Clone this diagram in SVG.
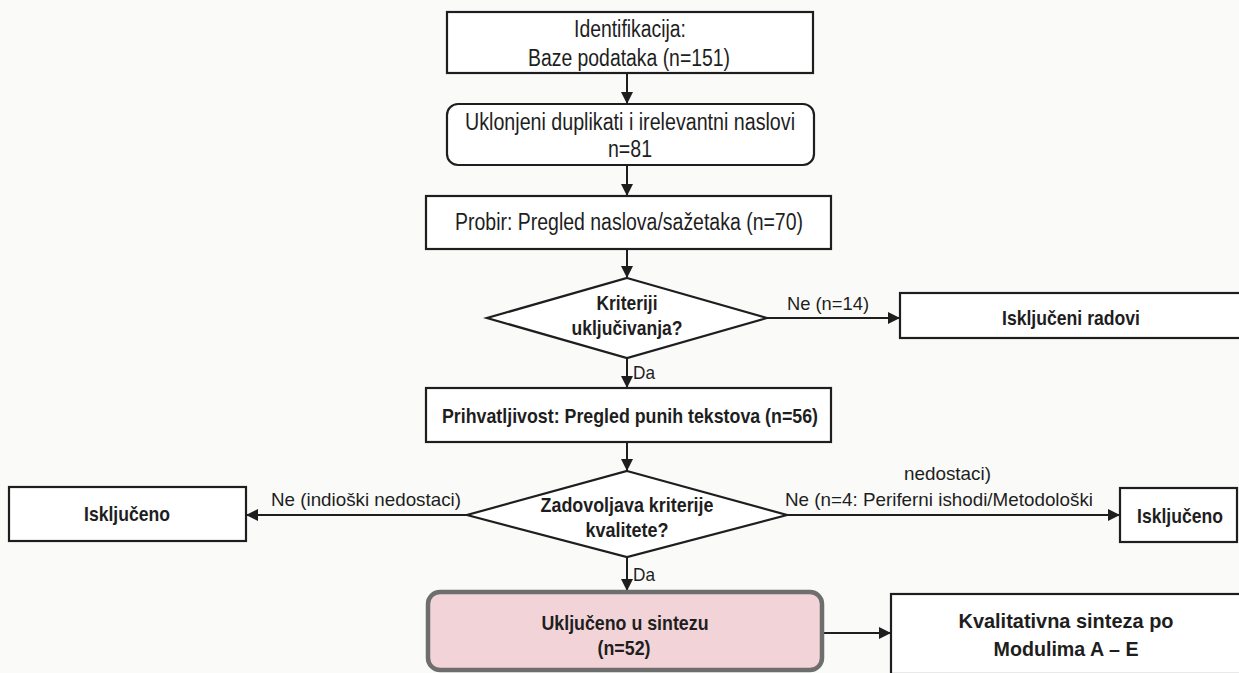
<svg xmlns="http://www.w3.org/2000/svg" width="1239" height="673" viewBox="0 0 1239 673">
<defs>
<style>
.bx{fill:#ffffff;stroke:#1e1e1e;stroke-width:2.2}
.ln{fill:none;stroke:#1e1e1e;stroke-width:2}
.t{font-family:"Liberation Sans",Arial,sans-serif;font-size:23px;fill:#1e1e1e;text-anchor:middle}
.b{font-weight:bold;font-size:21px}
.l{font-family:"Liberation Sans",Arial,sans-serif;font-size:19px;fill:#1e1e1e}
</style>
<marker id="ah" viewBox="0 0 10 10" refX="10" refY="5" markerWidth="12" markerHeight="12" markerUnits="userSpaceOnUse" orient="auto">
<path d="M0,0 L10,5 L0,10 z" fill="#1e1e1e"/>
</marker>
</defs>
<rect width="1239" height="673" fill="#fafaf9"/>
<g id="connectors">
<line class="ln" x1="627" y1="73" x2="627" y2="104" marker-end="url(#ah)"/>
<line class="ln" x1="627" y1="165" x2="627" y2="196" marker-end="url(#ah)"/>
<line class="ln" x1="627" y1="249" x2="627" y2="278" marker-end="url(#ah)"/>
<line class="ln" x1="767" y1="318" x2="900" y2="318" marker-end="url(#ah)"/>
<text class="l" x="787" y="310" textLength="82" lengthAdjust="spacingAndGlyphs">Ne (n=14)</text>
<line class="ln" x1="627" y1="358" x2="627" y2="388" marker-end="url(#ah)"/>
<text class="l" x="633" y="379" textLength="22" lengthAdjust="spacingAndGlyphs">Da</text>
<line class="ln" x1="627" y1="442" x2="627" y2="471" marker-end="url(#ah)"/>
<line class="ln" x1="467" y1="515" x2="246" y2="515" marker-end="url(#ah)"/>
<text class="l" x="271" y="506" textLength="190" lengthAdjust="spacingAndGlyphs">Ne (indioški nedostaci)</text>
<line class="ln" x1="787" y1="515" x2="1120" y2="515" marker-end="url(#ah)"/>
<text class="l" x="904" y="480" textLength="87" lengthAdjust="spacingAndGlyphs">nedostaci)</text>
<text class="l" x="785" y="506" textLength="308" lengthAdjust="spacingAndGlyphs">Ne (n=4: Periferni ishodi/Metodološki</text>
<line class="ln" x1="627" y1="557" x2="627" y2="591" marker-end="url(#ah)"/>
<text class="l" x="633" y="581" textLength="22" lengthAdjust="spacingAndGlyphs">Da</text>
<line class="ln" x1="822" y1="633" x2="891" y2="633" marker-end="url(#ah)"/>
</g>
<g id="n1">
<rect class="bx" x="447" y="12" width="366" height="61"/>
<text class="t" x="630" y="37" textLength="112" lengthAdjust="spacingAndGlyphs">Identifikacija:</text>
<text class="t" x="629" y="66" textLength="202" lengthAdjust="spacingAndGlyphs">Baze podataka (n=151)</text>
</g>
<g id="n2">
<rect class="bx" x="447" y="104" width="367" height="61" rx="11"/>
<text class="t" x="630" y="130" textLength="330" lengthAdjust="spacingAndGlyphs">Uklonjeni duplikati i irelevantni naslovi</text>
<text class="t" x="630" y="157" textLength="44" lengthAdjust="spacingAndGlyphs">n=81</text>
</g>
<g id="n3">
<rect class="bx" x="426" y="196" width="405" height="53"/>
<text class="t" x="629" y="230" textLength="348" lengthAdjust="spacingAndGlyphs">Probir: Pregled naslova/sažetaka (n=70)</text>
</g>
<g id="d1">
<polygon class="bx" points="627,278 767,318 627,358 487,318"/>
<text class="t b" x="627" y="310" textLength="61" lengthAdjust="spacingAndGlyphs">Kriteriji</text>
<text class="t b" x="627" y="335" textLength="111" lengthAdjust="spacingAndGlyphs">uključivanja?</text>
</g>
<g id="n4">
<rect class="bx" x="900" y="293" width="345" height="45"/>
<text class="t b" x="1071" y="325" textLength="138" lengthAdjust="spacingAndGlyphs">Isključeni radovi</text>
</g>
<g id="n5">
<rect class="bx" x="426" y="388" width="405" height="54"/>
<text class="t b" x="630" y="423" textLength="376" lengthAdjust="spacingAndGlyphs">Prihvatljivost: Pregled punih tekstova (n=56)</text>
</g>
<g id="d2">
<polygon class="bx" points="627,471 787,515 627,557 467,515"/>
<text class="t b" x="627" y="512" textLength="173" lengthAdjust="spacingAndGlyphs">Zadovoljava kriterije</text>
<text class="t b" x="627" y="537" textLength="83" lengthAdjust="spacingAndGlyphs">kvalitete?</text>
</g>
<g id="n6">
<rect class="bx" x="9" y="487" width="237" height="54"/>
<text class="t b" x="127" y="521" textLength="86" lengthAdjust="spacingAndGlyphs">Isključeno</text>
</g>
<g id="n7">
<rect class="bx" x="1120" y="488" width="117" height="54"/>
<text class="t b" x="1180" y="523" textLength="86" lengthAdjust="spacingAndGlyphs">Isključeno</text>
</g>
<g id="n8">
<rect x="428" y="592" width="394" height="78" rx="12" fill="#f2d4d8" stroke="#6e6e6e" stroke-width="4.5"/>
<text class="t b" x="625" y="630" textLength="167" lengthAdjust="spacingAndGlyphs">Uključeno u sintezu</text>
<text class="t b" x="624" y="655" textLength="53" lengthAdjust="spacingAndGlyphs">(n=52)</text>
</g>
<g id="n9">
<rect class="bx" x="891" y="594" width="355" height="80"/>
<text class="t b" x="1066" y="628" textLength="215" lengthAdjust="spacingAndGlyphs">Kvalitativna sinteza po</text>
<text class="t b" x="1066" y="656" textLength="145" lengthAdjust="spacingAndGlyphs">Modulima A – E</text>
</g>
</svg>
